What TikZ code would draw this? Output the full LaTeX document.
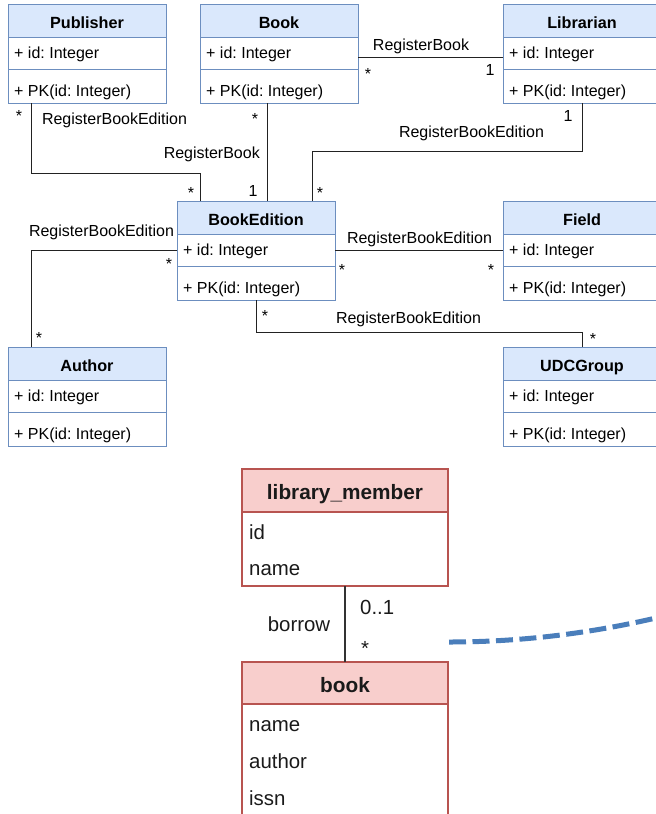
\documentclass[tikz,border=0pt]{standalone}
\usepackage{fontspec}
\setmainfont{Liberation Sans}
\usetikzlibrary{calc}
\frenchspacing

\definecolor{umlfill}{HTML}{DAE8FC}
\definecolor{umlstroke}{HTML}{6C8EBF}
\definecolor{erfill}{HTML}{F8CECC}
\definecolor{erstroke}{HTML}{B85450}
\definecolor{wirecol}{HTML}{222222}
\definecolor{linkcol}{HTML}{333333}
\definecolor{flowcol}{RGB}{74,126,187}
\definecolor{ertext}{HTML}{1A1A1A}

\tikzset{
  clsframe/.style={draw=umlstroke, fill=white, line width=1pt,
    minimum width=158pt, minimum height=99pt, inner sep=0pt, outer sep=0pt},
  clshead/.style={draw=umlstroke, fill=umlfill, line width=1pt,
    minimum width=158pt, minimum height=33pt, inner sep=0pt, outer sep=0pt},
  clstitle/.style={font=\fontsize{16.2}{19}\selectfont\bfseries, inner sep=0pt, anchor=base},
  clstext/.style={font=\fontsize{16}{19}\selectfont, inner sep=0pt, anchor=base west},
  wire/.style={draw=wirecol, line width=1pt},
  lbl/.style={font=\fontsize{16}{19}\selectfont, inner sep=0pt, anchor=base},
  erframe/.style={draw=erstroke, fill=white, line width=1.2pt,
    minimum width=206pt, inner sep=0pt, outer sep=0pt},
  erhead/.style={draw=erstroke, fill=erfill, line width=1.2pt,
    minimum width=206pt, inner sep=0pt, outer sep=0pt},
  ertitle/.style={font=\fontsize{20.8}{24}\selectfont\bfseries, text=ertext, inner sep=0pt, anchor=base},
  ertextrow/.style={font=\fontsize{20.4}{24}\selectfont, text=ertext, inner sep=0pt, anchor=base west},
  erlbl/.style={font=\fontsize{20.4}{24}\selectfont, text=ertext, inner sep=0pt, anchor=base},
  link/.style={draw=linkcol, line width=1.4pt},
  flow/.style={draw=flowcol, line width=5pt, dash pattern=on 17pt off 6.5pt}
}

% UML class box: name, title, top-left corner
\newcommand{\umlclass}[3]{%
  \node[clsframe, anchor=north west] (#1) at (#3) {};
  \node[clshead, anchor=north west] (#1-h) at (#1.north west) {};
  \draw[draw=umlstroke, line width=1pt] ($(#1.north west)+(0,65.5)$) -- ($(#1.north east)+(0,65.5)$);
  \node[clstitle] (#1-t) at ($(#1.north)+(0,24)$) {#2};
  \node[clstext] (#1-a) at ($(#1.north west)+(6,54.5)$) {+ id: Integer};
  \node[clstext] (#1-m) at ($(#1.north west)+(6,92.5)$) {+ PK(id: Integer)};
}

\begin{document}
\begin{tikzpicture}[x=1pt, y=-1pt]
\useasboundingbox (0,0) rectangle (656,814);
\clip (0,0) rectangle (656,814);
\fill[white] (0,0) rectangle (656,814);

% ---------- UML classes ----------
\umlclass{Publisher}{Publisher}{8,4}
\umlclass{Book}{Book}{200,4}
\umlclass{Librarian}{Librarian}{503,4}
\umlclass{BookEdition}{BookEdition}{177,201}
\umlclass{Field}{Field}{503,201}
\umlclass{Author}{Author}{8,347}
\umlclass{UDCGroup}{UDCGroup}{503,347}

% ---------- associations ----------
% Book -- Librarian
\draw[wire] ($(Book.north east)+(0,53.3)$) -- ($(Librarian.north west)+(0,53.3)$);
\node[lbl] (bl-name) at (421,50) {RegisterBook};
\node[lbl] (bl-m1) at (368,79.5) {*};
\node[lbl] (bl-m2) at (490,75) {1};

% Publisher -- BookEdition
\draw[wire] ($(Publisher.south west)+(23,0)$) -- ++(0,70) -| ($(BookEdition.north west)+(23,0)$);
\node[lbl] (pe-m1) at (19,121.5) {*};
\node[lbl] (pe-name) at (114.5,124) {RegisterBookEdition};
\node[lbl] (pe-m2) at (191,198.5) {*};

% Book -- BookEdition
\draw[wire] ($(Book.south west)+(67,0)$) -- ($(BookEdition.north west)+(90,0)$);
\node[lbl] (be-m1) at (255,124) {*};
\node[lbl, anchor=base east] (be-name) at (260,158) {RegisterBook};
\node[lbl] (be-m2) at (253,196) {1};

% Librarian -- BookEdition
\draw[wire] (Librarian.south) -- ++(0,48) -| ($(BookEdition.north west)+(135,0)$);
\node[lbl] (le-m1) at (568,121) {1};
\node[lbl] (le-name) at (471.5,137) {RegisterBookEdition};
\node[lbl] (le-m2) at (320,198.5) {*};

% BookEdition -- Field
\draw[wire] ($(BookEdition.north east)+(0,49)$) -- ($(Field.north west)+(0,49)$);
\node[lbl] (ef-name) at (419.5,243) {RegisterBookEdition};
\node[lbl] (ef-m1) at (342,275) {*};
\node[lbl] (ef-m2) at (491,275) {*};

% BookEdition -- Author
\draw[wire] ($(BookEdition.north west)+(0,49)$) -| ($(Author.north west)+(23,0)$);
\node[lbl] (ea-name) at (101.5,236) {RegisterBookEdition};
\node[lbl] (ea-m1) at (169,269.5) {*};
\node[lbl] (ea-m2) at (39,343.5) {*};

% BookEdition -- UDCGroup
\draw[wire] (BookEdition.south) -- ++(0,32) -| (UDCGroup.north);
\node[lbl] (eu-m1) at (265,321.5) {*};
\node[lbl] (eu-name) at (408.5,323) {RegisterBookEdition};
\node[lbl] (eu-m2) at (593,344) {*};

% ---------- entity boxes ----------
\node[erframe, minimum height=117pt, anchor=north west] (member) at (242,469) {};
\node[erhead, minimum height=43pt, anchor=north west] (member-h) at (member.north west) {};
\node[ertitle] (member-t) at ($(member.north)+(0,30.5)$) {library\_member};
\node[ertextrow] (member-id) at ($(member.north west)+(7,70)$) {id};
\node[ertextrow] (member-name) at ($(member.north west)+(7,106.5)$) {name};

\node[erframe, minimum height=165pt, anchor=north west] (book) at (242,662) {};
\node[erhead, minimum height=42pt, anchor=north west] (book-h) at (book.north west) {};
\node[ertitle] (book-t) at ($(book.north)+(0,30)$) {book};
\node[ertextrow] (book-name) at ($(book.north west)+(7,69.7)$) {name};
\node[ertextrow] (book-author) at ($(book.north west)+(7,106.3)$) {author};
\node[ertextrow] (book-issn) at ($(book.north west)+(7,143.5)$) {issn};

% borrow relation
\draw[link] (member.south) -- (book.north);
\node[erlbl, anchor=base west] (br-m1) at (360,614) {0..1};
\node[erlbl] (br-name) at (299,631.7) {borrow};
\node[erlbl] (br-m2) at (365,655.5) {*};

% dashed flow curve leaving to the right
\coordinate (flow-start) at (449,642);
\coordinate (flow-end) at (700,606.7);
\draw[flow] (flow-start) .. controls (532.7,642) and (616.3,630.2) .. (flow-end);
\end{tikzpicture}
\end{document}
